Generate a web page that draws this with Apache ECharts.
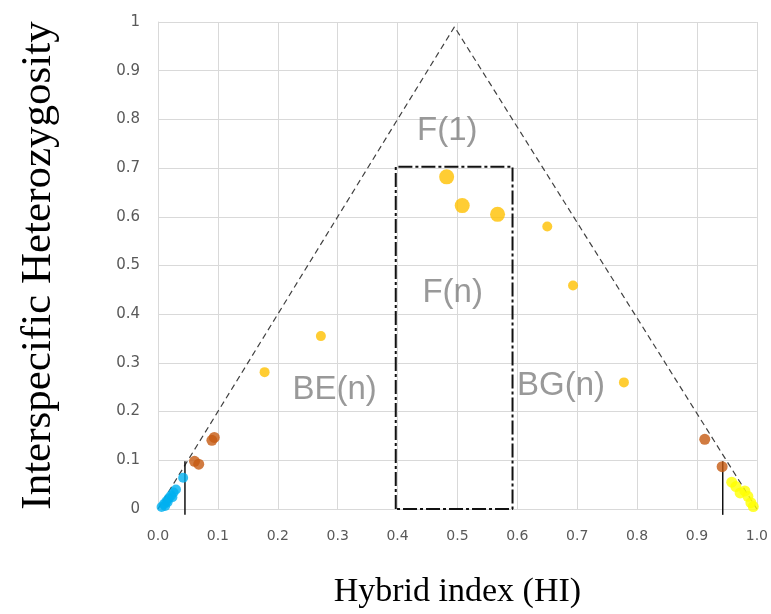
<!DOCTYPE html>
<html>
<head>
<meta charset="utf-8">
<script src="https://cdn.jsdelivr.net/npm/echarts@6/dist/echarts.min.js"></script>
<style>
    html, body { margin: 0; padding: 0; background: #fff; }
    #chart { width: 771px; height: 614px; }
</style>
</head>
<body>
<div id="chart"></div>
<script>
// 数据
var xTicks = ['0.0', '0.1', '0.2', '0.3', '0.4', '0.5', '0.6', '0.7', '0.8', '0.9', '1.0'];
var yTicks = ['0', '0.1', '0.2', '0.3', '0.4', '0.5', '0.6', '0.7', '0.8', '0.9', '1'];

var f1Big = [[0.482, 0.682], [0.508, 0.623], [0.567, 0.605]];
var f1Small = [[0.178, 0.281], [0.272, 0.355], [0.650, 0.580], [0.693, 0.459], [0.778, 0.260]];
var backcross = [[0.090, 0.141], [0.094, 0.147], [0.061, 0.098], [0.068, 0.092], [0.913, 0.143], [0.942, 0.087]];
var parentA = [[0.042, 0.064], [0.006, 0.004], [0.010, 0.010], [0.014, 0.016], [0.018, 0.022],
    [0.016, 0.014], [0.022, 0.028], [0.026, 0.034], [0.030, 0.040], [0.024, 0.024], [0.012, 0.006]];
var parentB = [[0.958, 0.055], [0.965, 0.046], [0.972, 0.033], [0.980, 0.037], [0.985, 0.026],
    [0.990, 0.013], [0.994, 0.005]];

var triangle = [[0, 0], [0.495, 0.99], [1, 0]];
var fnBox = [[0.397, 0], [0.397, 0.703], [0.592, 0.703], [0.592, 0], [0.397, 0]];
var leftCut = [[0.045, -0.012], [0.045, 0.098]];
var rightCut = [[0.943, -0.012], [0.943, 0.098]];

var classLabels = [
    {name: 'F(1)', value: [0.483, 0.777]},
    {name: 'F(n)', value: [0.492, 0.443]},
    {name: 'BE(n)', value: [0.295, 0.245]},
    {name: 'BG(n)', value: [0.673, 0.253]}
];

function dots(data, color, size){
    return {
        type: 'scatter',
        data: data,
        symbolSize: size,
        itemStyle: { color: color },
        z: 5
    };
}

function guide(data, color, width, dash){
    return {
        type: 'line',
        data: data,
        symbol: 'none',
        clip: false,
        lineStyle: { color: color, width: width, type: dash },
        z: 3
    };
}

var option = {
    animation: false,
    backgroundColor: '#fff',
    grid: { left: 158, right: 13, top: 22, bottom: 104 },
    xAxis: {
        type: 'value',
        min: 0,
        max: 1,
        interval: 0.1,
        name: 'Hybrid index (HI)',
        nameLocation: 'middle',
        nameGap: 66,
        nameTextStyle: { fontFamily: 'Liberation Serif', fontSize: 34, color: '#000' },
        axisLine: { show: true, lineStyle: { color: '#d9d9d9', width: 1 } },
        axisTick: { show: false },
        axisLabel: {
            fontFamily: 'DejaVu Sans', fontSize: 14, color: '#595959', margin: 20,
            formatter: function(v){ return xTicks[Math.round(v * 10)]; }
        },
        splitLine: { show: true, lineStyle: { color: '#d9d9d9', width: 1 } }
    },
    yAxis: {
        type: 'value',
        min: 0,
        max: 1,
        interval: 0.1,
        name: 'Interspecific Heterozygosity',
        nameLocation: 'middle',
        nameGap: 98,
        nameTextStyle: { fontFamily: 'Liberation Serif', fontSize: 43, color: '#000' },
        axisLine: { show: true, lineStyle: { color: '#d9d9d9', width: 1 } },
        axisTick: { show: false },
        axisLabel: {
            fontFamily: 'DejaVu Sans', fontSize: 15, color: '#595959', margin: 18,
            formatter: function(v){ return yTicks[Math.round(v * 10)]; }
        },
        splitLine: { show: true, lineStyle: { color: '#d9d9d9', width: 1 } }
    },
    series: [
        guide(triangle, '#404040', 1.2, [6, 4]),
        guide(fnBox, '#111', 2, [14, 3, 3, 3]),
        guide(leftCut, '#111', 1.5, 'solid'),
        guide(rightCut, '#111', 1.5, 'solid'),
        dots(f1Big, '#FFC000', 15),
        dots(f1Small, '#FFC000', 10),
        dots(backcross, '#C55A11', 11),
        dots(parentA, '#00B0F0', 10),
        dots(parentB, '#FFFF00', 11),
        {
            type: 'scatter',
            data: classLabels,
            symbolSize: 0,
            z: 6,
            label: {
                show: true,
                position: 'inside',
                formatter: '{b}',
                fontFamily: 'Liberation Sans',
                fontSize: 33,
                color: '#7f7f7f'
            }
        }
    ]
};

var myChart = echarts.init(document.getElementById('chart'));
myChart.setOption(option);
</script>
</body>
</html>
